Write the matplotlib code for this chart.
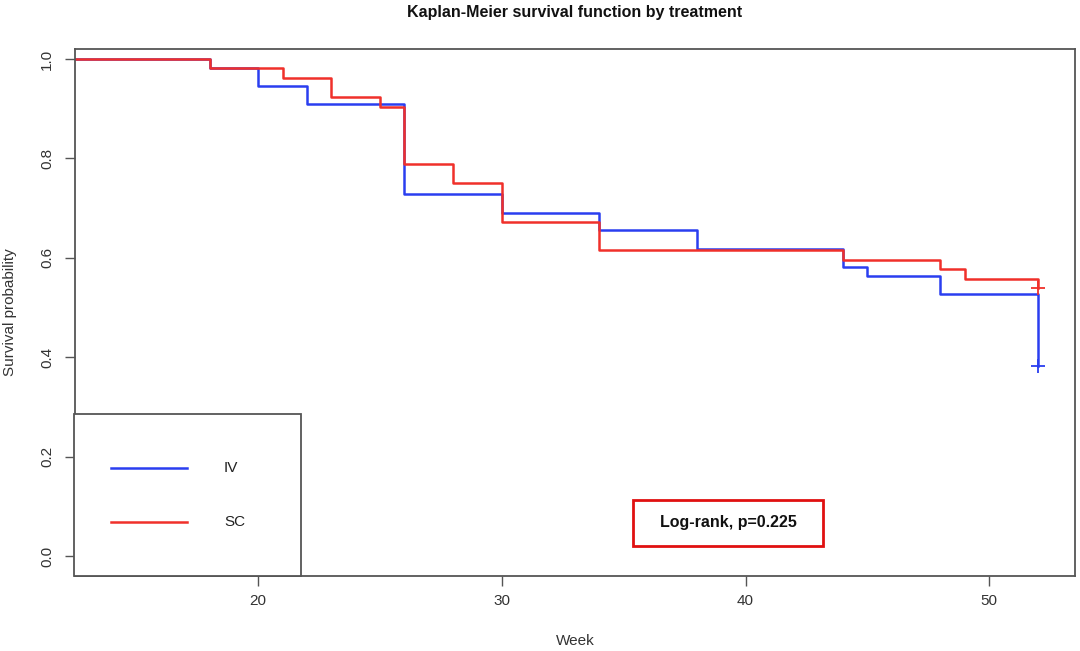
import matplotlib.pyplot as plt
from matplotlib.lines import Line2D
from matplotlib.patches import Rectangle

plt.rcParams['font.family'] = ['Liberation Sans', 'DejaVu Sans']

# Kaplan-Meier step curves
iv_weeks = [0, 18, 20, 22, 26, 30, 34, 38, 44, 45, 48, 52]
iv_surv = [1.0, 0.981, 0.945, 0.909, 0.728, 0.691, 0.655, 0.618, 0.582, 0.564, 0.528, 0.382]
sc_weeks = [0, 18, 21, 23, 25, 26, 28, 30, 34, 44, 48, 49, 52]
sc_surv = [1.0, 0.981, 0.961, 0.923, 0.904, 0.789, 0.751, 0.673, 0.616, 0.596, 0.578, 0.558, 0.539]

x_ticks = [20, 30, 40, 50]
y_ticks = [0.0, 0.2, 0.4, 0.6, 0.8, 1.0]
groups = ["IV", "SC"]
colors = ['#2a3ef0', '#f0302a']
p_text = "Log-rank, p=0.225"

W, H = 1080, 651


def fx(px):
    return px / W


def fy(py):
    return 1 - py / H


fig = plt.figure(figsize=(10.8, 6.51), dpi=100)
ax = fig.add_axes([fx(75), fy(576), 1000 / W, 527 / H])

ax.step(iv_weeks, iv_surv, where='post', color=colors[0], lw=1.8)
ax.step(sc_weeks, sc_surv, where='post', color=colors[1], lw=1.8)
# censor marks at the end
ax.plot(iv_weeks[-1], iv_surv[-1], marker='+', color=colors[0], ms=10, mew=1.3)
ax.plot(sc_weeks[-1], sc_surv[-1], marker='+', color=colors[1], ms=10, mew=1.3)

ax.set_xlim(12.48, 53.52)
ax.set_ylim(-0.04, 1.02)
ax.set_xticks(x_ticks)
ax.set_yticks(y_ticks)
ax.set_yticklabels([f"{v:.1f}" for v in y_ticks], rotation=90, va='center')
ax.tick_params(direction='out', length=7, width=1, colors='#555555',
               labelcolor='#333333', labelsize=11)
ax.tick_params(axis='x', pad=6)
ax.tick_params(axis='y', pad=8)
for s in ax.spines.values():
    s.set_color('#555555')
    s.set_linewidth(1.3)

fig.text(fx(575), fy(641), "Week", ha='center', va='center', fontsize=11, color='#333333')
fig.text(fx(10), fy(312), "Survival probability", ha='center', va='center',
         rotation=90, fontsize=11, color='#333333')
fig.text(fx(575), fy(13), "Kaplan-Meier survival function by treatment",
         ha='center', va='center', fontsize=11.5, fontweight='bold', color='#111111')

# legend box in the lower left corner
fig.add_artist(Rectangle((fx(74), fy(576)), 227 / W, 162 / H, transform=fig.transFigure,
                         fill=True, fc='white', ec='#555555', lw=1.3, zorder=5))
for name, col, py in zip(groups, colors, [468, 522]):
    fig.add_artist(Line2D([fx(111), fx(187)], [fy(py), fy(py)], color=col, lw=1.8, zorder=6))
    fig.text(fx(224), fy(py), name, ha='left', va='center', fontsize=11,
             color='#222222', zorder=6)

# log-rank annotation
fig.add_artist(Rectangle((fx(633), fy(546)), 190 / W, 46 / H,
                         transform=fig.transFigure, fill=False, ec='#e01010', lw=2))
fig.text(fx(728), fy(523), p_text, ha='center', va='center',
         fontsize=11.5, fontweight='bold', color='#111111')

plt.savefig("out.png", dpi=100)
